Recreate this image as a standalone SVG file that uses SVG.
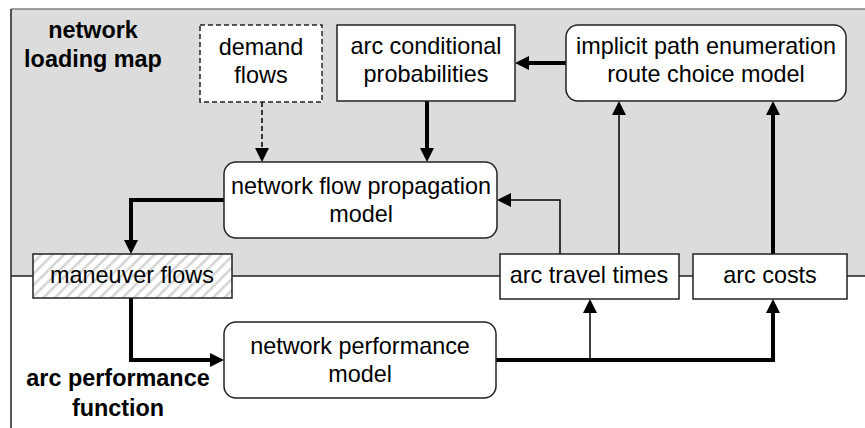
<svg xmlns="http://www.w3.org/2000/svg" width="865" height="428" viewBox="0 0 865 428">
<defs>
<style>
.box{fill:#fff;stroke:#222;stroke-width:1.5}
.t{font-family:"Liberation Sans",Arial,sans-serif;font-size:23.4px;fill:#000;text-anchor:middle}
.b{font-weight:bold}
.thick{fill:none;stroke:#000;stroke-width:4}
.thin{fill:none;stroke:#000;stroke-width:1.5}
</style>
<marker id="ah" viewBox="0 0 14 14" refX="8" refY="7" markerWidth="14" markerHeight="14" markerUnits="userSpaceOnUse" orient="auto">
<path d="M0,0 L14,7 L0,14 z" fill="#000"/>
</marker>
<pattern id="hatch" width="8" height="8" patternUnits="userSpaceOnUse" patternTransform="rotate(45)">
<rect width="8" height="8" fill="#fff"/>
<rect width="2.5" height="8" fill="#d4d4d4"/>
</pattern>
</defs>
<g id="background">
<rect x="11" y="9" width="860" height="267" fill="#dcdcdc"/>
<line x1="11" y1="9" x2="865" y2="9" stroke="#808080" stroke-width="1.5"/>
<line x1="11" y1="9" x2="11" y2="428" stroke="#222" stroke-width="1.5"/>
<line x1="11" y1="276" x2="865" y2="276" stroke="#222" stroke-width="1.5"/>
</g>
<g id="label-loading">
<text class="t b" x="93" y="38">network</text>
<text class="t b" x="93" y="67">loading map</text>
</g>
<g id="label-performance">
<text class="t b" x="118" y="386">arc performance</text>
<text class="t b" x="118" y="416">function</text>
</g>
<g id="connectors">
<path class="thick" d="M566,63 H521" marker-end="url(#ah)"/>
<path class="thick" d="M427,101 V156" marker-end="url(#ah)"/>
<path class="thin" d="M262,102 V156" stroke-dasharray="5,3" marker-end="url(#ah)"/>
<path class="thick" d="M224,200 H131 V248" marker-end="url(#ah)"/>
<path class="thick" d="M131,298 V360 H218" marker-end="url(#ah)"/>
<path class="thick" d="M496,360 H773 V305" marker-end="url(#ah)"/>
<path class="thin" d="M590,360 V305" marker-end="url(#ah)"/>
<path class="thin" d="M560,254 V200 H503" marker-end="url(#ah)"/>
<path class="thin" d="M619,254 V107" marker-end="url(#ah)"/>
<path class="thick" d="M773,254 V107" marker-end="url(#ah)"/>
</g>
<g id="demand-flows">
<rect x="200" y="25" width="122" height="77" fill="#fff" stroke="#222" stroke-width="1.5" stroke-dasharray="5,3"/>
<text class="t" x="261" y="55">demand</text>
<text class="t" x="261" y="83">flows</text>
</g>
<g id="arc-conditional-probabilities">
<rect class="box" x="337" y="25" width="178" height="76"/>
<text class="t" x="426" y="54">arc conditional</text>
<text class="t" x="426" y="82">probabilities</text>
</g>
<g id="route-choice-model">
<rect class="box" x="566" y="25" width="280" height="76" rx="12"/>
<text class="t" x="706" y="54">implicit path enumeration</text>
<text class="t" x="706" y="82">route choice model</text>
</g>
<g id="flow-propagation-model">
<rect class="box" x="224" y="162" width="273" height="76" rx="12"/>
<text class="t" x="361" y="194">network flow propagation</text>
<text class="t" x="361" y="222">model</text>
</g>
<g id="maneuver-flows">
<rect x="33" y="254" width="199" height="44" fill="url(#hatch)" stroke="#222" stroke-width="1.5"/>
<text class="t" x="132" y="283">maneuver flows</text>
</g>
<g id="arc-travel-times">
<rect class="box" x="500" y="254" width="179" height="45"/>
<text class="t" x="589" y="283">arc travel times</text>
</g>
<g id="arc-costs">
<rect class="box" x="693" y="254" width="154" height="45"/>
<text class="t" x="770" y="283">arc costs</text>
</g>
<g id="network-performance-model">
<rect class="box" x="224" y="322" width="272" height="76" rx="12"/>
<text class="t" x="360" y="354">network performance</text>
<text class="t" x="360" y="382">model</text>
</g>
</svg>
